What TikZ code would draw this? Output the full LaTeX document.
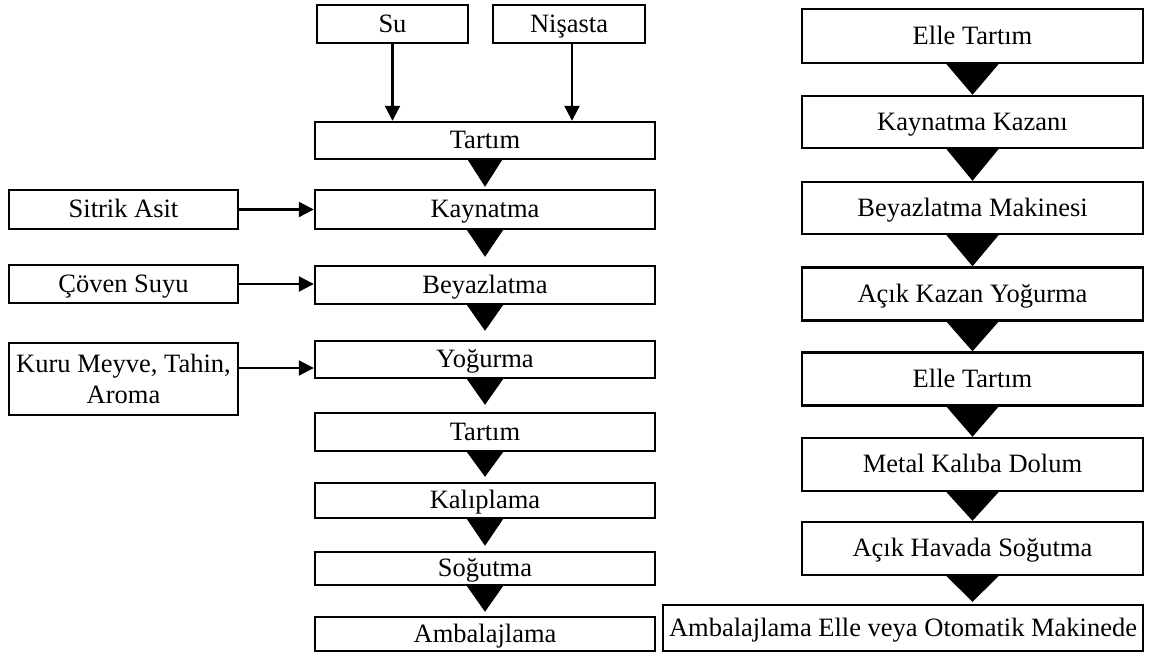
\documentclass[tikz,border=0pt]{standalone}
\usepackage{fontspec}
\setmainfont{Liberation Serif}
\usetikzlibrary{arrows.meta,calc}
\newcommand\fatarr[4]{%
  \fill ([xshift=-#3pt]#1.south) -- ([xshift=#3pt]#1.south) -- ($(#1.south |- #2.north)+(0,-#4)$) -- cycle;}
\begin{document}
\begin{tikzpicture}[x=1pt,y=-1pt,
  boxbase/.style={draw,line width=2.4pt,rectangle,inner sep=0pt,align=center,
    font=\fontsize{26.5}{31}\selectfont},
  box/.style={boxbase,text height=22pt,text depth=6pt},
  lbox/.style={box,minimum width=340pt},
  rbox/.style={box,minimum width=341pt,minimum height=53pt},
  sbox/.style={box,minimum width=229pt},
  feed/.style={line width=2.2pt,-{Triangle[width=15pt,length=15pt]}}]
\useasboundingbox (0,0) rectangle (1150,653);
% left inputs
\node[box,minimum width=151pt,minimum height=38pt] (su) at (392.5,24) {Su};
\node[box,minimum width=152pt,minimum height=38pt] (nis) at (569,24) {Nişasta};
% left column
\node[lbox,minimum height=37pt] (t1) at (485,140.5) {Tartım};
\node[lbox,minimum height=39pt] (kay) at (485,209.5) {Kaynatma};
\node[lbox,minimum height=38pt] (bey) at (485,285) {Beyazlatma};
\node[lbox,minimum height=37pt] (yog) at (485,359.5) {Yoğurma};
\node[lbox,minimum height=38pt] (t2) at (485,432) {Tartım};
\node[lbox,minimum height=35pt] (kal) at (485,500.5) {Kalıplama};
\node[lbox,minimum height=33pt] (sog) at (485,568.5) {Soğutma};
\node[lbox,minimum height=34pt] (amb) at (485,634) {Ambalajlama};
% side inputs
\node[sbox,minimum height=39pt] (sit) at (123.5,209.5) {Sitrik Asit};
\node[sbox,minimum height=38pt] (cov) at (123.5,284) {Çöven Suyu};
\node[boxbase,minimum width=229pt,minimum height=72pt] (kur) at (123.5,379) {Kuru Meyve, Tahin,\\Aroma};
% right column
\node[rbox,minimum height=54pt] (r1) at (972.5,36) {Elle Tartım};
\node[rbox,minimum height=52pt] (r2) at (972.5,122) {Kaynatma Kazanı};
\node[rbox,minimum height=52pt] (r3) at (972.5,208) {Beyazlatma Makinesi};
\node[rbox,minimum height=53pt] (r4) at (972.5,294) {Açık Kazan Yoğurma};
\node[rbox,minimum height=53pt] (r5) at (972.5,379) {Elle Tartım};
\node[rbox,minimum height=53pt] (r6) at (972.5,464.5) {Metal Kalıba Dolum};
\node[rbox,minimum height=53pt] (r7) at (972.5,548.5) {Açık Havada Soğutma};
\node[box,minimum width=480pt,minimum height=46pt] (r8) at (903,628) {Ambalajlama Elle veya Otomatik Makinede};
% thin arrows
\draw[feed] (su.south) -- (su.south |- t1.north);
\draw[feed] ([xshift=3pt]nis.south) -- ([xshift=3pt]nis.south |- t1.north);
\draw[feed] (sit.east) -- (sit.east -| kay.west);
\draw[feed] (cov.east) -- (cov.east -| bey.west);
\draw[feed] ([yshift=11pt]kur.east) -- ([yshift=11pt]kur.east -| yog.west);
% fat arrows left
\fatarr{t1}{kay}{17}{2}
\fatarr{kay}{bey}{18}{8}
\fatarr{bey}{yog}{18}{9}
\fatarr{yog}{t2}{18}{7}
\fatarr{t2}{kal}{18}{5}
\fatarr{kal}{sog}{18}{5}
\fatarr{sog}{amb}{18}{4}
% fat arrows right
\fatarr{r1}{r2}{26}{0}
\fatarr{r2}{r3}{26}{0}
\fatarr{r3}{r4}{26}{0}
\fatarr{r4}{r5}{26}{0}
\fatarr{r5}{r6}{26}{0}
\fatarr{r6}{r7}{26}{0}
\fatarr{r7}{r8}{26}{2}
\end{tikzpicture}
\end{document}
